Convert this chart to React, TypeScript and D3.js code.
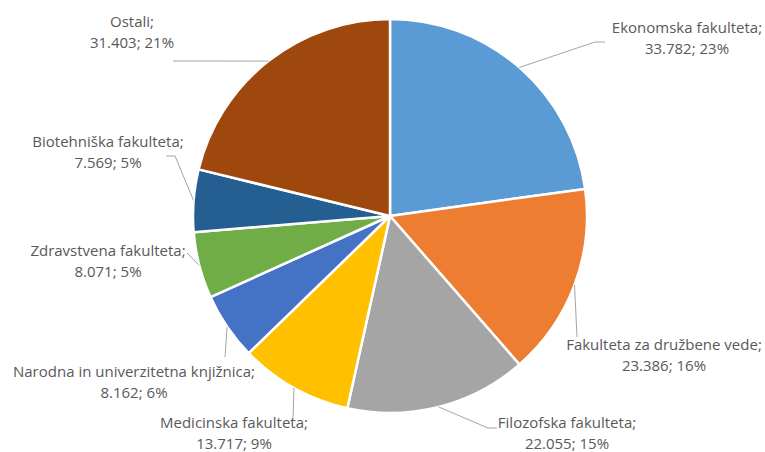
import React from "react";
import * as d3 from "d3";

const names = [
  "Ekonomska fakulteta",
  "Fakulteta za družbene vede",
  "Filozofska fakulteta",
  "Medicinska fakulteta",
  "Narodna in univerzitetna knjižnica",
  "Zdravstvena fakulteta",
  "Biotehniška fakulteta",
  "Ostali",
];
const values = [33782, 23386, 22055, 13717, 8162, 8071, 7569, 31403];
const colors = ["#5B9BD5", "#ED7D31", "#A5A5A5", "#FFC000", "#4472C4", "#70AD47", "#255E91", "#9E480E"];

// label placement: text centre x, first baseline y, leader elbow points
const labelX = [687, 664, 567, 234, 134, 108, 108, 132];
const labelY = [33, 350, 428, 428, 377, 256, 147, 27];
const elbows: number[][][] = [
  [[595, 42], [605, 42]],
  [[577, 337]],
  [[488, 428], [497, 428]],
  [[293, 419]],
  [[225, 357]],
  [[187, 253]],
  [[175, 156], [166, 156]],
  [[173, 61]],
];

const W = 765;
const H = 452;
const cx = 390;
const cy = 216;
const R = 197;

const fmt = (v: number) => d3.format(",")(v).replace(/,/g, ".");

export default function App() {
  const total = d3.sum(values);
  const pie = d3.pie<number>().sort(null).value((d) => d);
  const arcs = pie(values);
  const arc = d3.arc<d3.PieArcDatum<number>>().innerRadius(0).outerRadius(R);

  return (
    <svg width={W} height={H} style={{ position: "absolute", left: 0, top: 0, background: "#fff" }}>
      <g transform={`translate(${cx},${cy})`}>
        {arcs.map((a, i) => (
          <path key={i} d={arc(a) || ""} fill={colors[i]} stroke="#fff" strokeWidth={2.5} strokeLinejoin="round" />
        ))}
      </g>
      {arcs.map((a, i) => {
        const mid = (a.startAngle + a.endAngle) / 2;
        const sx = cx + R * Math.sin(mid);
        const sy = cy - R * Math.cos(mid);
        const pts = [[sx, sy], ...elbows[i]];
        const line = d3.line()(pts as [number, number][]) || "";
        return <path key={"l" + i} d={line} fill="none" stroke="#A6A6A6" strokeWidth={1} />;
      })}
      {arcs.map((a, i) => (
        <text
          key={"t" + i}
          x={labelX[i]}
          y={labelY[i]}
          textAnchor="middle"
          fontFamily="'Open Sans', Lato, sans-serif"
          fontSize={15}
          fill="#595959"
        >
          <tspan x={labelX[i]}>{names[i]};</tspan>
          <tspan x={labelX[i]} dy={21}>
            {fmt(values[i])}; {Math.round((values[i] / total) * 100)}%
          </tspan>
        </text>
      ))}
    </svg>
  );
}
